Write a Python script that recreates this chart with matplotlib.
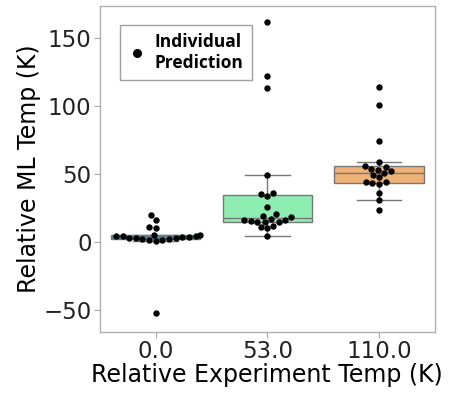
import numpy as np
import pandas as pd
import seaborn as sns
import matplotlib.pyplot as plt
from matplotlib.lines import Line2D

#%% Data: ML predicted temperature vs. experimental temperature (relative, K)
temps = ['0.0', '53.0', '110.0']

pred_0 = [-52.5, 0.8, 1.2, 1.6, 2.0, 2.3, 2.6, 2.9, 3.2, 3.5, 3.8, 4.1,
          4.4, 4.7, 5.0, 5.3, 10.0, 11.0, 16.5, 19.5]
pred_53 = [4.7, 10.0, 11.0, 12.0, 14.5, 15.0, 15.0, 15.5, 16.0, 16.0, 17.0,
           18.0, 19.0, 20.5, 25.5, 33.5, 35.0, 36.0, 49.0, 113.5, 122.5, 162.0]
pred_110 = [23.5, 31.0, 36.0, 43.0, 43.5, 44.0, 44.5, 48.0, 49.5, 51.0, 52.0,
            53.0, 54.0, 55.5, 56.0, 59.0, 74.5, 101.0, 114.0]

box_colors = ['#3d8ca3', '#8eeeb2', '#efb277']

df = pd.DataFrame({
    'exp': [temps[0]] * len(pred_0) + [temps[1]] * len(pred_53) + [temps[2]] * len(pred_110),
    'ml': pred_0 + pred_53 + pred_110,
})

#%% Plot
fig = plt.figure(figsize=(4.52, 3.93), dpi=100)
ax = fig.add_axes([0.221, 0.155, 0.741, 0.830])

sns.boxplot(data=df, x='exp', y='ml', order=temps, hue='exp', hue_order=temps,
            palette=box_colors, saturation=1, showfliers=False, width=0.8,
            linecolor='#777777', linewidth=1, legend=False, ax=ax)
sns.swarmplot(data=df, x='exp', y='ml', order=temps, color='black', size=4.6,
              ax=ax, zorder=3)

ax.set_xlim(-0.5, 2.5)
ax.set_ylim(-66.5, 174)
ax.set_yticks([-50, 0, 50, 100, 150])

ax.set_xlabel('Relative Experiment Temp (K)', fontsize=17, labelpad=0)
ax.set_ylabel('Relative ML Temp (K)', fontsize=17, labelpad=2)
ax.tick_params(labelsize=16.5, colors='#aaaaaa', labelcolor='#222222',
               length=4, width=0.8, pad=2)
for sp in ax.spines.values():
    sp.set_color('#b0b0b0')
    sp.set_linewidth(1)

# legend for the swarm points
handle = Line2D([], [], marker='o', color='black', linestyle='None', markersize=5.5)
leg = ax.legend([handle], ['Individual\nPrediction'], loc='upper left',
                bbox_to_anchor=(0.06, 0.942), borderaxespad=0,
                fancybox=False, edgecolor='#888888',
                handlelength=1.0, handletextpad=0.5, borderpad=0.5,
                prop={'family': 'Open Sans', 'weight': 'bold', 'size': 12.5})
leg.get_frame().set_linewidth(1)
leg.get_texts()[0].set_linespacing(1.15)

fig.savefig('out.png', dpi=100)
